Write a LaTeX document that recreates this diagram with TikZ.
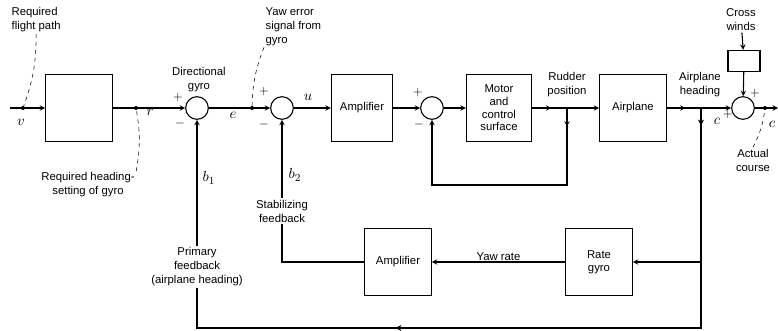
\documentclass[tikz,border=0pt]{standalone}
\usepackage{amsmath}
\usepackage{fontspec}
\setmainfont{Liberation Sans}
\usetikzlibrary{shapes,arrows,positioning,calc,decorations.markings}

\begin{document}
\begin{tikzpicture}[
    x=0.75pt,y=-0.75pt,
    box/.style={rectangle,draw,thick,minimum width=50pt,minimum height=50pt,
                align=center,font={\fontsize{8.5}{9.5}\selectfont}},
    sum/.style={circle,draw,thick,minimum size=17pt,inner sep=0pt},
    line/.style={thick},
    arr/.style={->,>=stealth,thick},
    midarr/.style={decoration={markings,mark=at position #1 with {\arrow{stealth}}},postaction={decorate}},
    lead/.style={dashed,thin},
    lbl/.style={font={\fontsize{8.5}{10.5}\selectfont},align=center,inner sep=1pt},
    sig/.style={font=\fontsize{11}{12}\selectfont,inner sep=1pt},
    sgn/.style={font=\small,inner sep=0pt}
]
\useasboundingbox (0,0) rectangle (778,331);

% forward path
\node[box] (ref) at (79,108) {};
\node[sum] (s1) at (197,108) {};
\node[sum] (s2) at (282,108) {};
\node[box,minimum width=46pt] (amp1) at (362,108) {Amplifier};
\node[sum] (s3) at (432,108) {};
\node[box,minimum width=49pt] (motor) at (499,108) {Motor\\and\\control\\surface};
\node[box] (plane) at (633,108) {Airplane};
\node[sum] (s4) at (743,108) {};
\node[box,minimum width=24pt,minimum height=16pt] (wind) at (744,61) {};

% feedback blocks
\node[box] (amp2) at (398,262) {Amplifier};
\node[box] (rgyro) at (599,262) {Rate\\gyro};

\coordinate (in) at (10,108);
\coordinate (out) at (778,108);
\coordinate (jr) at (567,108);
\coordinate (jh) at (701,108);
\coordinate (jr2) at (567,185);
\coordinate (jh2) at (701,262);
\coordinate (jh3) at (701,328);
\coordinate (s1b) at (197,328);

% texts
\node[lbl,anchor=north west,align=left] (fp) at (10,6) {Required\\flight path};
\node[lbl] (dg) at (199,80) {Directional\\gyro};
\node[lbl,anchor=north west,align=left] (ye) at (264,6) {Yaw error\\signal from\\gyro};
\node[lbl] (rp) at (567,85) {Rudder\\position};
\node[lbl] (ah) at (700,85) {Airplane\\heading};
\node[lbl] (cw) at (741,20) {Cross\\winds};
\node[lbl] (ac) at (753,160) {Actual\\course};
\node[lbl] (rh) at (88,185) {Required heading-\\setting of gyro};
\node[lbl] (stabfb) at (282,211) {Stabilizing\\feedback};
\node[lbl] (primfb) at (197,267) {Primary\\feedback\\(airplane heading)};

% signals and signs
\node[sig] (v) at (21,122) {$v$};
\node[sig] (r) at (150,112) {$r$};
\node[sig] (e) at (233,115) {$e$};
\node[sig] (u) at (308,97) {$u$};
\node[sig] (b1) at (209,178) {$b_1$};
\node[sig] (b2) at (295,175) {$b_2$};
\node[sig] (c1) at (717,121) {$c$};
\node[sig] (c2) at (772,124) {$c$};
\node[sgn] (p1) at (178,98) {$+$};
\node[sgn] (m1) at (180,124) {$-$};
\node[sgn] (p2) at (264,92) {$+$};
\node[sgn] (m2) at (264,125) {$-$};
\node[sgn] (p3) at (418,93) {$+$};
\node[sgn] (m3) at (419,125) {$-$};
\node[sgn] (p4) at (728,115) {$+$};
\node[sgn] (p5) at (755,94) {$+$};

% forward connectors
\draw[arr] (in) -- (ref);
\draw[arr] (ref) -- (s1);
\draw[arr] (s1) -- (s2);
\draw[arr] (s2) -- (amp1);
\draw[arr] (amp1) -- (s3);
\draw[arr] (s3) -- (motor);
\draw[line,midarr=0.55] (motor) -- (jr);
\draw[arr] (jr) -- (plane);
\draw[line,midarr=0.55] (plane) -- (jh);
\draw[arr] (jh) -- (s4);
\draw[arr] (s4) -- (out);
\draw[arr] (cw) -- (wind);
\draw[arr] (wind) -- (s4);

% inner loop
\draw[arr,midarr=14pt] (jr) -- (jr2) -| (s3);

% feedback loops
\draw[line,midarr=13pt,midarr=394pt] (jh) -- (jh3) -- (s1b) -- (primfb.south);
\draw[arr] (primfb.north) -- (s1);
\draw[arr] (jh2) -- (rgyro);
\draw[arr] (rgyro) -- node[lbl,above] (yr) {Yaw rate} (amp2);
\draw[line] (amp2) -| (stabfb.south);
\draw[arr] (stabfb.north) -- (s2);

% leaders
\coordinate (dfp) at (23,108);
\coordinate (drh) at (136,108);
\coordinate (dye) at (252,108);
\coordinate (dac) at (765,108);
\draw[lead] (fp.south) to[bend left=10] (dfp);
\draw[lead] (rh.north east) to[bend right=10] (drh);
\draw[lead] (ye.south west) to[bend right=10] (dye);
\draw[lead] (ac.north) to[bend right=10] (dac);
\foreach \d in {dfp,drh,dye,dac}
  \fill (\d) circle (2);
\end{tikzpicture}
\end{document}
